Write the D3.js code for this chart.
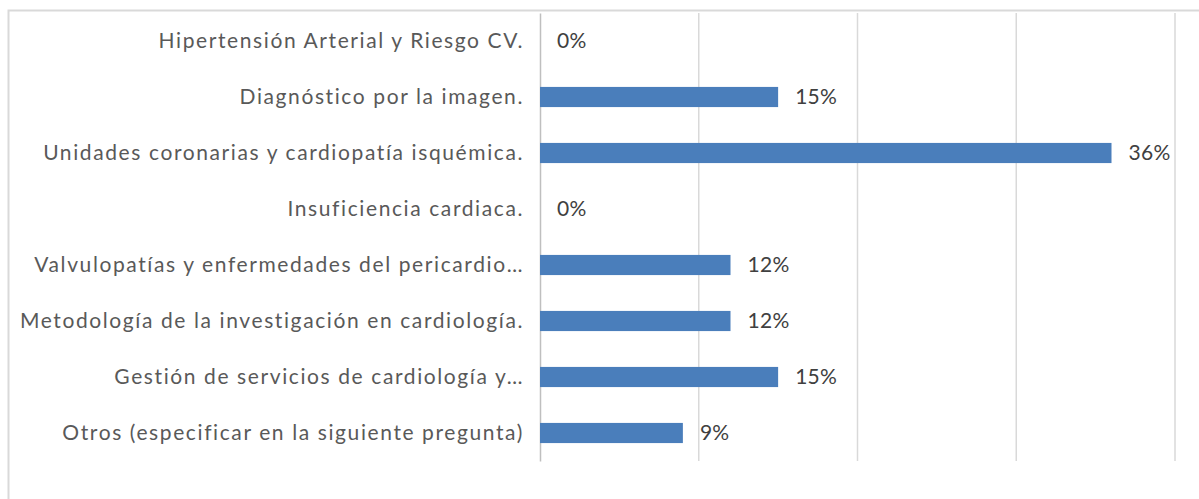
<!DOCTYPE html>
<html>
<head>
<meta charset="utf-8">
<script src="https://cdn.jsdelivr.net/npm/d3@7"></script>
<style>
  body { margin: 0; background: #fff; }
  svg { display: block; }
</style>
</head>
<body>
<div id="chart"></div>
<script>
var categories = [
    "Hipertensión Arterial y Riesgo CV.",
    "Diagnóstico por la imagen.",
    "Unidades coronarias y cardiopatía isquémica.",
    "Insuficiencia cardiaca.",
    "Valvulopatías y enfermedades del pericardio…",
    "Metodología de la investigación en cardiología.",
    "Gestión de servicios de cardiología y…",
    "Otros (especificar en la siguiente pregunta)"
];
var values = [0, 0.15, 0.36, 0, 0.12, 0.12, 0.15, 0.09];
var gridTicks = [0.1, 0.2, 0.3, 0.4];

var W = 1199, H = 499;
var margin = { top: 13, left: 540, right: 24, bottom: 38 };

var svg = d3.select("#chart").append("svg")
    .attr("width", W)
    .attr("height", H);

// chart area border
svg.append("rect")
    .attr("x", 8.5).attr("y", 10.5)
    .attr("width", W + 10).attr("height", H + 10)
    .attr("fill", "none")
    .attr("stroke", "#d9d9d9")
    .attr("stroke-width", 2);

var x = d3.scaleLinear().domain([0, 0.4]).range([margin.left, W - margin.right]);
var y = d3.scaleBand().domain(categories).range([margin.top, H - margin.bottom]).paddingInner(0.64).paddingOuter(0.32);

// gridlines
svg.selectAll(".grid")
    .data(gridTicks)
    .enter().append("line")
    .attr("class", "grid")
    .attr("x1", function (d) { return x(d); })
    .attr("x2", function (d) { return x(d); })
    .attr("y1", margin.top)
    .attr("y2", H - margin.bottom)
    .attr("stroke", "#d9d9d9")
    .attr("stroke-width", 1.5);

// category axis
var yAxis = svg.append("g")
    .attr("transform", "translate(" + margin.left + ",0)")
    .call(d3.axisLeft(y).tickSize(0).tickPadding(16));
yAxis.select(".domain").attr("stroke", "#bfbfbf").attr("stroke-width", 1.5);
yAxis.selectAll("text")
    .attr("fill", "#595959")
    .style("font-family", "Lato, 'Open Sans', sans-serif")
    .style("font-size", "21px")
    .style("letter-spacing", "1.6px");

// bars
svg.selectAll(".bar")
    .data(values)
    .enter().append("rect")
    .attr("class", "bar")
    .attr("x", x(0))
    .attr("y", function (d, i) { return y(categories[i]); })
    .attr("width", function (d) { return x(d) - x(0); })
    .attr("height", y.bandwidth())
    .attr("fill", "#4a7ebb");

// value labels
svg.selectAll(".val")
    .data(values)
    .enter().append("text")
    .attr("class", "val")
    .attr("x", function (d) { return x(d) + 17; })
    .attr("y", function (d, i) { return y(categories[i]) + y.bandwidth() / 2; })
    .attr("dy", "0.35em")
    .attr("fill", "#404040")
    .style("font-family", "Lato, 'Open Sans', sans-serif")
    .style("font-size", "21px")
    .style("letter-spacing", "0.3px")
    .text(function (d) { return Math.round(d * 100) + "%"; });
</script>
</body>
</html>
